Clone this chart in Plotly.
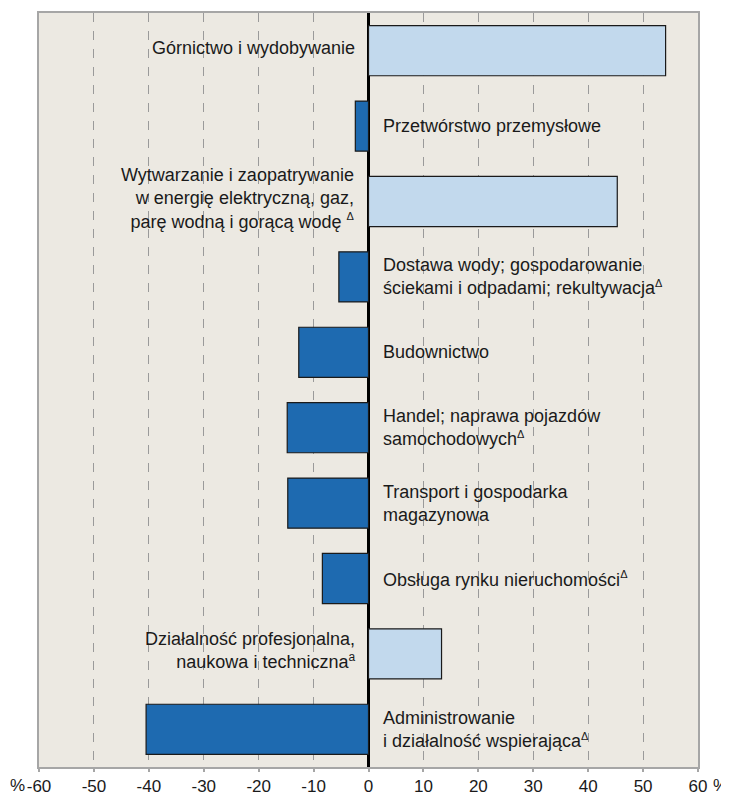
import plotly.graph_objects as go

SUP_D = "<sup><span style='font-size:11px'>Δ</span></sup>"
categories = [
    "Górnictwo i wydobywanie",
    "Przetwórstwo przemysłowe",
    "Wytwarzanie i zaopatrywanie<br>w energię elektryczną, gaz,<br>parę wodną i gorącą wodę " + SUP_D,
    "Dostawa wody; gospodarowanie<br>ściekami i odpadami; rekultywacja" + SUP_D,
    "Budownictwo",
    "Handel; naprawa pojazdów<br>samochodowych" + SUP_D,
    "Transport i gospodarka<br>magazynowa",
    "Obsługa rynku nieruchomości" + SUP_D,
    "Działalność profesjonalna,<br>naukowa i techniczna<sup><span style='font-size:12px'>a</span></sup>",
    "Administrowanie<br>i działalność wspierająca" + SUP_D,
]
values = [54.1, -2.4, 45.3, -5.4, -12.7, -14.8, -14.7, -8.4, 13.3, -40.5]
tick_values = [-60, -50, -40, -30, -20, -10, 0, 10, 20, 30, 40, 50, 60]
tick_labels = ["-60", "-50", "-40", "-30", "-20", "-10", "0", "10", "20", "30", "40", "50", "60"]

POS_COLOR = "#C2D9ED"
NEG_COLOR = "#1E6AB0"
BG = "#ECE9E2"
FONT = "Liberation Sans, Arial, sans-serif"
FS = 18
TFS = 17

ids = [f"c{i}" for i in range(len(categories))]
colors = [POS_COLOR if v >= 0 else NEG_COLOR for v in values]

fig = go.Figure()
fig.add_trace(go.Bar(
    x=values, y=ids, orientation="h",
    marker=dict(color=colors, line=dict(color="#1a1a1a", width=1.2)),
    hoverinfo="skip", showlegend=False,
))

annotations = []
for cid, lab, v in zip(ids, categories, values):
    if v >= 0:
        annotations.append(dict(x=0, y=cid, xref="x", yref="y", text=lab, showarrow=False,
                                xanchor="right", align="right", xshift=-12, yshift=3,
                                font=dict(family=FONT, size=FS, color="#1a1a1a")))
    else:
        annotations.append(dict(x=0, y=cid, xref="x", yref="y", text=lab, showarrow=False,
                                xanchor="left", align="left", xshift=12, yshift=0,
                                font=dict(family=FONT, size=FS, color="#1a1a1a")))

annotations.append(dict(x=0, y=0, xref="paper", yref="paper", text="%", showarrow=False,
                        xanchor="right", yanchor="middle", xshift=-12, yshift=-18,
                        font=dict(family=FONT, size=TFS, color="#1a1a1a")))
annotations.append(dict(x=1, y=0, xref="paper", yref="paper", text="%", showarrow=False,
                        xanchor="left", yanchor="middle", xshift=13, yshift=-18,
                        font=dict(family=FONT, size=TFS, color="#1a1a1a")))

fig.update_layout(
    width=721, height=788,
    margin=dict(l=31, r=31, t=5, b=29),
    paper_bgcolor="white", plot_bgcolor=BG,
    bargap=0.335,
    annotations=annotations,
    font=dict(family=FONT, size=FS, color="#1a1a1a"),
    xaxis=dict(range=[-60, 60], tickvals=tick_values, ticktext=tick_labels,
               automargin=False,
               showgrid=True, gridcolor="#9a9a9a", griddash="dash", gridwidth=1,
               zeroline=True, zerolinecolor="#000000", zerolinewidth=2.5,
               showline=True, linecolor="#A6A6A6", linewidth=1.5, mirror=True,
               ticks="outside", ticklen=3, tickcolor="#A6A6A6", tickwidth=1.5,
               ticklabelstandoff=0,
               tickfont=dict(family=FONT, size=TFS, color="#1a1a1a")),
    yaxis=dict(type="category", categoryorder="array", categoryarray=ids,
               autorange="reversed", showgrid=False, showticklabels=False, zeroline=False,
               automargin=False,
               showline=True, linecolor="#A6A6A6", linewidth=1.5, mirror=True, ticks=""),
)

fig.write_html("out.html")
